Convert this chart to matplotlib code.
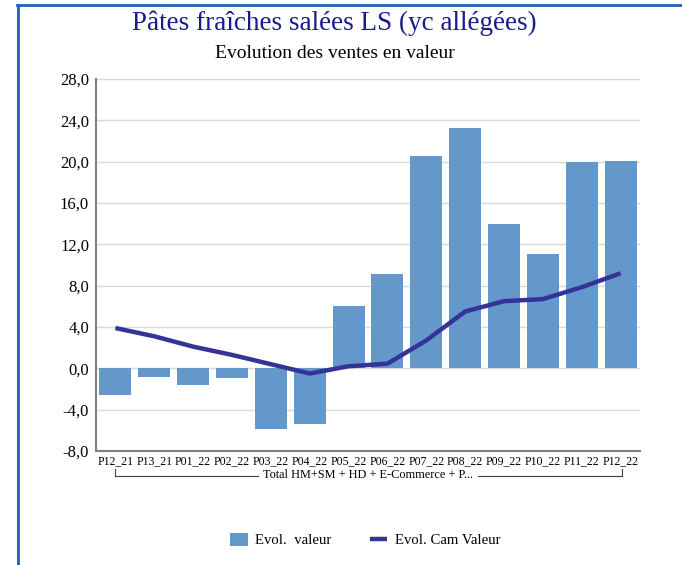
import numpy as np
import matplotlib
matplotlib.use("Agg")
import matplotlib.pyplot as plt
from matplotlib.lines import Line2D

# data
periods = ["P12_21", "P13_21", "P01_22", "P02_22", "P03_22", "P04_22", "P05_22",
           "P06_22", "P07_22", "P08_22", "P09_22", "P10_22", "P11_22", "P12_22"]
evol_valeur = [-2.6, -0.85, -1.6, -0.95, -5.9, -5.4, 6.0,
               9.1, 20.5, 23.3, 14.0, 11.1, 20.0, 20.1]
evol_cam = [3.9, 3.1, 2.1, 1.3, 0.4, -0.5, 0.2,
            0.45, 2.7, 5.5, 6.5, 6.7, 7.85, 9.2]
group_label = "Total HM+SM + HD + E-Commerce + P..."
yticks = np.arange(-8, 29, 4)

bar_color = "#6598CA"
line_color = "#333399"
font = "Liberation Serif"
plt.rcParams['font.family'] = [font, 'DejaVu Serif']

fig = plt.figure(figsize=(6.82, 5.65), dpi=100)
ax = fig.add_axes([96 / 682, 1 - 451 / 565, (640 - 96) / 682, (451 - 79) / 565])

x = np.arange(len(periods))
bars = ax.bar(x, evol_valeur, width=0.82, color=bar_color, zorder=2, label="Evol.  valeur")
line, = ax.plot(x, evol_cam, color=line_color, lw=3.2, zorder=3, label="Evol. Cam Valeur",
                solid_capstyle='butt')

ax.set_xlim(-0.5, len(periods) - 0.5)
ax.set_ylim(-8, 28)
ax.set_yticks(yticks)
ax.set_yticklabels([f"{v:.1f}".replace(".", ",") for v in yticks], fontsize=12)
ax.set_xticks(x)
ax.set_xticklabels(periods, fontsize=8.5)
ax.tick_params(axis='both', length=0, pad=5)
ax.tick_params(axis='x', pad=3)
ax.grid(axis='y', color="#D9D9D9", lw=1, zorder=0)
for s in ["top", "right"]:
    ax.spines[s].set_visible(False)
for s in ["left", "bottom"]:
    ax.spines[s].set_color("#808080")
    ax.spines[s].set_linewidth(1.5)

# category bracket under the tick labels
def fx(px):
    return px / 682

def fy(py):
    return 1 - py / 565

bx0, bx1, by, btop = 115, 622, 476, 469
fig.add_artist(Line2D([fx(bx0), fx(bx0)], [fy(btop), fy(by)], color="#404040", lw=0.8))
fig.add_artist(Line2D([fx(bx1), fx(bx1)], [fy(btop), fy(by)], color="#404040", lw=0.8))
fig.add_artist(Line2D([fx(bx0), fx(258)], [fy(by), fy(by)], color="#404040", lw=0.8))
fig.add_artist(Line2D([fx(478), fx(bx1)], [fy(by), fy(by)], color="#404040", lw=0.8))
fig.text(fx(368), fy(475), group_label, fontsize=8.8, ha='center', va='center')

# titles
fig.text(fx(334), fy(23), "Pâtes fraîches salées LS (yc allégées)", fontsize=19.5,
         color="#1A1A8C", ha='center', va='center')
fig.text(fx(335), fy(53), "Evolution des ventes en valeur", fontsize=14,
         color="black", ha='center', va='center')

# legend
fig.legend(handles=[bars, line], loc='center', bbox_to_anchor=(fx(365), fy(540)), ncol=2,
           frameon=False, fontsize=10.6, handlelength=1.2, handleheight=1.0,
           columnspacing=2.6, handletextpad=0.5)

# blue frame (top and left edges)
fig.add_artist(Line2D([fx(17), 1], [fy(5), fy(5)], color="#1F62B4", lw=2))
fig.add_artist(Line2D([fx(18), fx(18)], [fy(5), 0], color="#1F62B4", lw=2))

fig.savefig("out.png", dpi=100)
